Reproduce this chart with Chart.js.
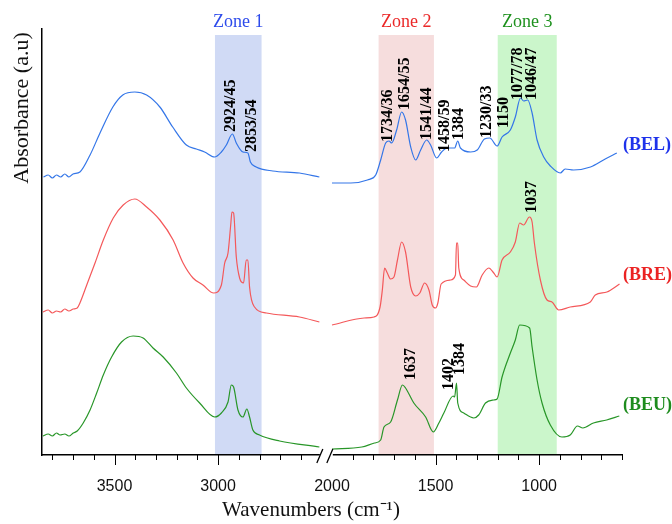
<!DOCTYPE html>
<html>
<head>
<meta charset="utf-8">
<script src="https://cdn.jsdelivr.net/npm/chart.js@4/dist/chart.umd.min.js"></script>
<style>
  html, body { margin: 0; padding: 0; background: #fff; }
  #wrap { width: 672px; height: 524px; }
</style>
</head>
<body>
<div id="wrap"><canvas id="chart" width="672" height="524"></canvas></div>
<script>
// FTIR spectra, wavenumber (cm-1) vs absorbance (offset, a.u.)
// null marks the axis break between 2500 and 2000
const belWave = [3843, 3820, 3800, 3780, 3760, 3740, 3720, 3700, 3667, 3618, 3570, 3508, 3460, 3402, 3345, 3281, 3219, 3153, 3105, 3065,
  3017, 2984, 2960, 2931, 2912, 2880, 2856, 2844, 2816, 2736, 2607, 2511, 2475,
  2000, 1909, 1829, 1789, 1765, 1741, 1725, 1712, 1688, 1664, 1645, 1620, 1596, 1572, 1543, 1524, 1495, 1471, 1444, 1408,
  1393, 1380, 1331, 1299, 1264, 1238, 1203, 1179, 1139, 1115, 1090, 1075, 1055, 1034, 1010, 978, 946, 898, 874, 834, 752, 681, 625];
const belAbs = [2.78, 2.80, 2.77, 2.80, 2.78, 2.81, 2.78, 2.81, 2.83, 3.00, 3.22, 3.48, 3.60, 3.63, 3.60, 3.48, 3.28, 3.10, 3.06, 3.03,
  2.98, 3.03, 3.10, 3.21, 3.12, 3.03, 3.02, 2.93, 2.88, 2.84, 2.82, 2.78, null,
  2.72, 2.72, 2.75, 2.80, 2.95, 3.12, 3.14, 3.12, 3.25, 3.43, 3.35, 3.08, 2.95, 3.05, 3.15, 3.10, 2.97, 3.03, 3.07, 3.07,
  3.14, 3.07, 3.03, 3.05, 3.16, 3.17, 3.09, 3.18, 3.25, 3.38, 3.57, 3.54, 3.55, 3.42, 3.15, 2.98, 2.89, 2.82, 2.86, 2.85, 2.88, 2.96, 3.02];

const breWave = [3846, 3820, 3800, 3780, 3760, 3740, 3720, 3699, 3680, 3667, 3634, 3594, 3554, 3506, 3458, 3402, 3345, 3281, 3217, 3169,
  3121, 3073, 3021, 2984, 2968, 2952, 2939, 2933, 2925, 2912, 2896, 2877, 2864, 2856, 2848, 2824, 2767, 2607, 2511, 2475,
  2000, 1845, 1797, 1768, 1757, 1746, 1733, 1717, 1701, 1684, 1664, 1645, 1620, 1596, 1576, 1553, 1532, 1516, 1500, 1489,
  1473, 1428, 1404, 1399, 1393, 1388, 1364, 1331, 1303, 1275, 1243, 1219, 1203, 1179, 1139, 1115, 1094, 1075, 1047, 1034,
  1023, 994, 962, 938, 906, 850, 753, 729, 673, 612];
const breAbs = [1.43, 1.45, 1.42, 1.44, 1.43, 1.46, 1.44, 1.46, 1.47, 1.52, 1.70, 1.92, 2.15, 2.37, 2.50, 2.56, 2.48, 2.35, 2.15, 1.92,
  1.77, 1.70, 1.62, 1.70, 1.92, 2.02, 2.30, 2.43, 2.42, 1.98, 1.77, 1.72, 1.95, 1.95, 1.68, 1.48, 1.42, 1.38, 1.33, null,
  1.30, 1.37, 1.38, 1.48, 1.65, 1.87, 1.82, 1.76, 1.78, 1.95, 2.13, 2.03, 1.68, 1.59, 1.62, 1.72, 1.65, 1.50, 1.47, 1.52,
  1.71, 1.75, 1.80, 2.12, 2.12, 1.87, 1.75, 1.69, 1.68, 1.80, 1.87, 1.82, 1.78, 1.95, 2.03, 2.13, 2.32, 2.30, 2.38, 2.33,
  2.12, 1.75, 1.55, 1.53, 1.45, 1.48, 1.53, 1.60, 1.63, 1.71];

const beuWave = [3846, 3820, 3800, 3780, 3763, 3740, 3720, 3699, 3680, 3651, 3618, 3586, 3554, 3514, 3466, 3410, 3362, 3314, 3265, 3201,
  3153, 3089, 3016, 2984, 2952, 2936, 2925, 2904, 2880, 2861, 2848, 2832, 2800, 2703, 2511, 2475,
  2000, 1856, 1795, 1765, 1749, 1717, 1684, 1660, 1645, 1605, 1548, 1511, 1484, 1460, 1415, 1408, 1399, 1393, 1364, 1316,
  1292, 1259, 1219, 1203, 1179, 1139, 1115, 1094, 1046, 1034, 1010, 986, 946, 890, 850, 815, 789, 738, 674, 613];
const beuAbs = [0.19, 0.21, 0.19, 0.22, 0.20, 0.21, 0.19, 0.22, 0.24, 0.32, 0.45, 0.62, 0.80, 0.98, 1.13, 1.19, 1.17, 1.07, 0.98, 0.82,
  0.67, 0.52, 0.38, 0.42, 0.53, 0.70, 0.68, 0.45, 0.38, 0.46, 0.38, 0.25, 0.20, 0.14, 0.08, null,
  0.06, 0.08, 0.12, 0.15, 0.28, 0.33, 0.55, 0.70, 0.67, 0.52, 0.38, 0.23, 0.32, 0.42, 0.59, 0.58, 0.72, 0.52, 0.42, 0.37,
  0.40, 0.52, 0.55, 0.56, 0.78, 1.02, 1.15, 1.30, 1.27, 1.08, 0.75, 0.52, 0.30, 0.18, 0.20, 0.29, 0.27, 0.32, 0.35, 0.39];

// shaded zones
const zoneNames = ['Zone 1', 'Zone 2', 'Zone 3'];
const zoneFrom = [3015, 1775, 1200];
const zoneTo = [2790, 1508, 915];
const zoneTop = 4.20;

// series labels on the right
const seriesNames = ['(BEL)', '(BRE)', '(BEU)'];
const seriesLabelAbs = [3.10, 1.80, 0.50];

// peak annotations (text, wavenumber, absorbance at label foot)
const peakText = ['2924/45', '2853/54', '1734/36', '1654/55', '1541/44', '1458/59', '1384', '1230/33', '1150', '1077/78', '1046/47',
  '1037', '1637', '1402', '1384'];
const peakWave = [2936, 2837, 1730, 1649, 1540, 1457, 1388, 1251, 1168, 1104, 1034, 1034, 1620, 1436, 1383];
const peakAbs = [3.23, 3.03, 3.13, 3.45, 3.15, 3.03, 3.15, 3.17, 3.27, 3.55, 3.55, 2.42, 0.75, 0.65, 0.80];

// x ticks (every 100 cm-1 on each side of the break), labelled ones
const tickWave = [3800, 3700, 3600, 3500, 3400, 3300, 3200, 3100, 3000, 2900, 2800, 2700, 2600,
  2000, 1900, 1800, 1700, 1600, 1500, 1400, 1300, 1200, 1100, 1000, 900, 800, 700, 600];
const labelWave = [3500, 3000, 2000, 1500, 1000];

const colors = ['rgb(52,118,232)', 'rgb(244,88,90)', 'rgb(40,150,40)'];
const zoneFill = ['rgba(200,211,243,0.85)', 'rgba(245,215,215,0.85)', 'rgba(194,245,194,0.85)'];
const zoneText = ['rgb(45,75,235)', 'rgb(235,40,40)', 'rgb(30,145,30)'];
const nameText = ['rgb(30,50,235)', 'rgb(235,35,35)', 'rgb(30,140,30)'];

// broken axis: left part (>= 2500) shifted so that it sits right next to 2000
const toAxis = w => (w > 2250 ? w - 450 : w);
const fromAxis = u => (u > 2000 ? u + 450 : u);

const serif = '"Liberation Serif", "Times New Roman", serif';

const makeSet = (wave, abs, color) => ({
  data: wave.map((w, i) => ({ x: toAxis(w), y: abs[i] })),
  borderColor: color,
  borderWidth: 1.2,
  pointRadius: 0,
  fill: false,
  spanGaps: false,
  cubicInterpolationMode: 'monotone'
});

const decor = {
  id: 'decor',
  beforeDatasetsDraw(chart) {
    const { ctx, chartArea, scales: { x, y } } = chart;
    ctx.save();
    zoneFrom.forEach((f, i) => {
      const x1 = x.getPixelForValue(toAxis(f));
      const x2 = x.getPixelForValue(toAxis(zoneTo[i]));
      const yt = y.getPixelForValue(zoneTop);
      ctx.fillStyle = zoneFill[i];
      ctx.fillRect(x1, yt, x2 - x1, chartArea.bottom - 1 - yt);
    });
    ctx.restore();
  },
  afterDraw(chart) {
    const { ctx, chartArea, scales: { x, y } } = chart;
    const bottom = chartArea.bottom;
    ctx.save();

    // tick marks
    ctx.strokeStyle = '#000';
    ctx.lineWidth = 1;
    tickWave.forEach(w => {
      const px = Math.round(x.getPixelForValue(toAxis(w))) + 0.5;
      const len = labelWave.includes(w) ? 10 : 5;
      if (w === 2000) return;
      ctx.beginPath();
      ctx.moveTo(px, bottom);
      ctx.lineTo(px, bottom + len);
      ctx.stroke();
    });

    // axis break
    const bx = (x.getPixelForValue(toAxis(2500)) + x.getPixelForValue(2000)) / 2;
    ctx.fillStyle = '#fff';
    ctx.fillRect(bx - 7, bottom - 3, 13, 6);
    ctx.lineWidth = 1.3;
    [-5, 5].forEach(d => {
      ctx.beginPath();
      ctx.moveTo(bx + d - 5, bottom + 8);
      ctx.lineTo(bx + d + 1, bottom - 6);
      ctx.stroke();
    });

    // zone titles
    ctx.font = '18px ' + serif;
    ctx.textAlign = 'center';
    ctx.textBaseline = 'middle';
    zoneNames.forEach((n, i) => {
      const cx = (x.getPixelForValue(toAxis(zoneFrom[i])) + x.getPixelForValue(toAxis(zoneTo[i]))) / 2;
      ctx.fillStyle = zoneText[i];
      ctx.fillText(n, cx, chartArea.top - 7);
    });

    // series names
    ctx.font = 'bold 18px ' + serif;
    ctx.textAlign = 'left';
    seriesNames.forEach((n, i) => {
      ctx.fillStyle = nameText[i];
      ctx.fillText(n, chartArea.right + 1, y.getPixelForValue(seriesLabelAbs[i]));
    });

    // peak labels
    ctx.font = 'bold 16px ' + serif;
    ctx.fillStyle = '#000';
    ctx.textAlign = 'left';
    ctx.textBaseline = 'middle';
    peakText.forEach((t, i) => {
      ctx.save();
      ctx.translate(x.getPixelForValue(toAxis(peakWave[i])), y.getPixelForValue(peakAbs[i]));
      ctx.rotate(-Math.PI / 2);
      ctx.fillText(t, 0, 0);
      ctx.restore();
    });

    // axis titles
    ctx.fillStyle = '#111';
    ctx.font = '21px ' + serif;
    ctx.textAlign = 'center';
    ctx.fillText('Wavenumbers (cm\u207B\u00B9)', 311, 510);
    ctx.save();
    ctx.translate(22, 108);
    ctx.rotate(-Math.PI / 2);
    ctx.font = '22px ' + serif;
    ctx.fillText('Absorbance (a.u)', 0, 0);
    ctx.restore();

    ctx.restore();
  }
};

new Chart(document.getElementById('chart'), {
  type: 'line',
  data: {
    datasets: [
      makeSet(belWave, belAbs, colors[0]),
      makeSet(breWave, breAbs, colors[1]),
      makeSet(beuWave, beuAbs, colors[2])
    ]
  },
  options: {
    responsive: false,
    animation: false,
    devicePixelRatio: 1,
    layout: { padding: { left: 42, right: 50, top: 29, bottom: 0 } },
    plugins: { legend: { display: false }, tooltip: { enabled: false } },
    scales: {
      x: {
        type: 'linear',
        reverse: true,
        min: 600,
        max: 3400,
        afterFit: s => { s.height = 69; },
        afterBuildTicks: s => { s.ticks = tickWave.map(w => ({ value: toAxis(w) })); },
        grid: { display: false },
        border: { display: true, color: '#000', width: 1.5 },
        ticks: {
          autoSkip: false,
          maxRotation: 0,
          padding: 14,
          color: '#111',
          font: { family: '"Liberation Sans", Arial, sans-serif', size: 16 },
          callback: v => (labelWave.includes(fromAxis(v)) ? String(fromAxis(v)) : '')
        }
      },
      y: {
        min: 0,
        max: 4.26,
        afterFit: s => { s.width = 0; },
        grid: { display: false },
        border: { display: true, color: '#000', width: 1.5 },
        ticks: { display: false }
      }
    }
  },
  plugins: [decor]
});
</script>
</body>
</html>
